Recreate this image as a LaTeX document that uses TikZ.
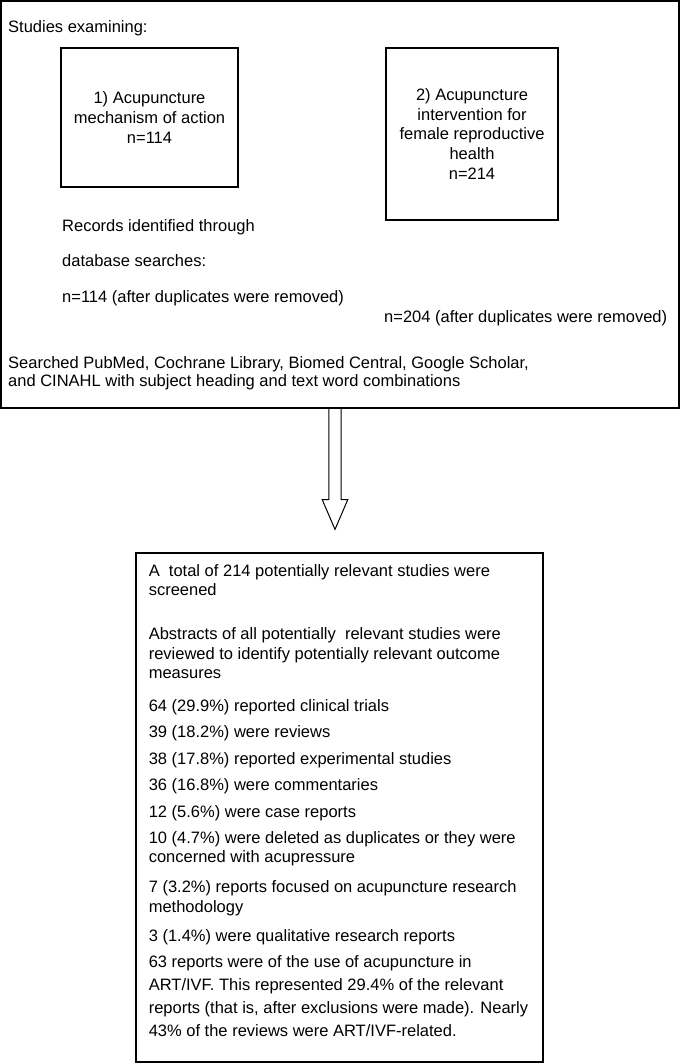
\documentclass[tikz,border=0pt]{standalone}
\usepackage{fontspec}
\setmainfont{Liberation Sans}
\usetikzlibrary{positioning}

\begin{document}
\begin{tikzpicture}[x=1pt,y=1pt]
			\tikzstyle{every node}+=[inner sep=0pt, font=\fontsize{16.5}{19.7}\selectfont]
			\tikzstyle{frame}=[draw=black, line width=1.2pt]
			\tikzstyle{txt}=[anchor=base west, align=left]
			\fill [white] (0,0) rectangle (680,-1064);
			\useasboundingbox (0,0) rectangle (680,-1064);
			% search box (multi-line texts: base = last line)
			\node [frame, minimum width=678, minimum height=407] (search) at (340,-204.5) {};
			\node [txt] (studies) at (8,-32.3) {Studies examining:};
			\node [frame, align=center, minimum width=177, minimum height=139] (mech) at (149.5,-117.5) {1) Acupuncture\\mechanism of action\\n=114};
			\node [frame, align=center, minimum width=172, minimum height=172] (repro) at (472,-134) {2) Acupuncture\\intervention for\\female reproductive\\health\\n=214};
			\node [txt] (rec) at (62,-232) {Records identified through};
			\node [txt] (dbs) at (62,-267) {database searches:};
			\node [txt] (dup1) at (62,-302) {n=114 (after duplicates were removed)};
			\node [txt] (dup2) at (384,-322) {n=204 (after duplicates were removed)};
			\node [txt, font=\fontsize{16.5}{18.7}\selectfont] (sources) at (8,-386.7) {Searched PubMed, Cochrane Library, Biomed Central, Google Scholar,\\and CINAHL with subject heading and text word combinations};
			% screening box
			\node [frame, minimum width=407, minimum height=509] (screen) at (339.5,-807.5) {};
			\node [txt, font=\fontsize{16.5}{19}\selectfont] (total) at (148.6,-595) {A\ \ total of 214 potentially relevant studies were\\screened};
			\node [txt] (abstr) at (148.6,-678.9) {Abstracts of all potentially\ \ relevant studies were\\reviewed to identify potentially relevant outcome\\measures};
			\node [txt] (trials) at (148.6,-711.8) {64 (29.9\%) reported clinical trials};
			\node [txt] (reviews) at (148.6,-737.8) {39 (18.2\%) were reviews};
			\node [txt] (exper) at (148.6,-764) {38 (17.8\%) reported experimental studies};
			\node [txt] (comm) at (148.6,-790.6) {36 (16.8\%) were commentaries};
			\node [txt] (cases) at (148.6,-817) {12 (5.6\%) were case reports};
			\node [txt] (deleted) at (148.6,-862.8) {10 (4.7\%) were deleted as duplicates or they were\\concerned with acupressure};
			\node [txt] (method) at (148.6,-912) {7 (3.2\%) reports focused on acupuncture research\\methodology};
			\node [txt] (qual) at (148.6,-941.6) {3 (1.4\%) were qualitative research reports};
			\node [txt, font=\fontsize{16.5}{22.9}\selectfont] (artivf) at (148.6,-1036.4) {63 reports were of the use of acupuncture in\\ART/IVF. This represented 29.4\% of the relevant\\reports (that is, after exclusions were made). Nearly\\43\% of the reviews were ART/IVF-related.};
			% hollow arrow
			\coordinate (atop) at ([xshift=-5]search.south);
			\coordinate (atip) at ([xshift=-4.5,yshift=23]screen.north);
			\draw [black, line width=1pt] ([xshift=-6.2]atop) -- ([xshift=-6.2,yshift=-91]atop) -- ([xshift=-12.8,yshift=-91]atop) -- (atip) -- ([xshift=12.8,yshift=-91]atop) -- ([xshift=6.2,yshift=-91]atop) -- ([xshift=6.2]atop);
			\end{tikzpicture}
\end{document}
